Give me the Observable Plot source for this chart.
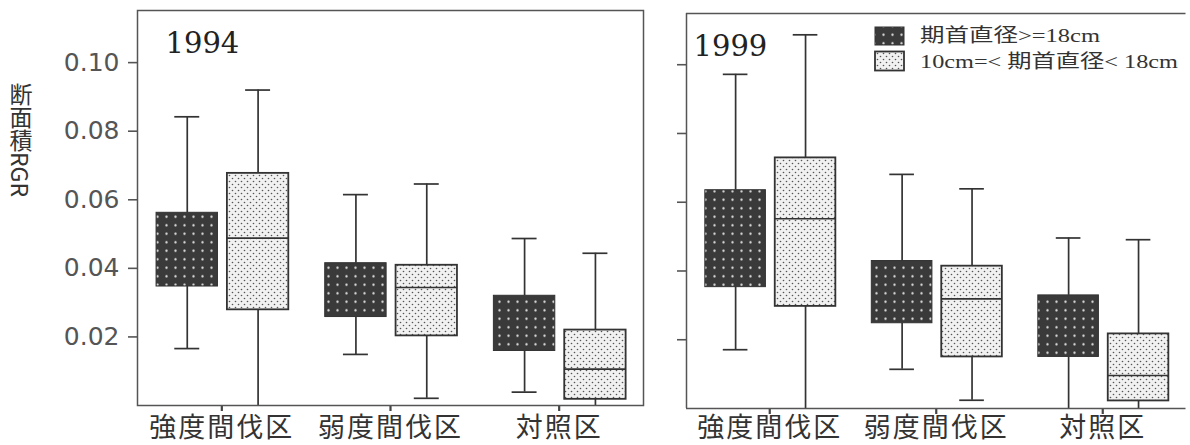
<!DOCTYPE html>
<html><head><meta charset="utf-8">
<script src="https://cdn.jsdelivr.net/npm/d3@7"></script>
<script src="https://cdn.jsdelivr.net/npm/@observablehq/plot@0.6"></script>
<style>
body{margin:0;background:#fff;}
#wrap{position:relative;width:1190px;height:445px;overflow:hidden;background:#fff;}
#ylab{position:absolute;left:9px;top:83px;writing-mode:vertical-rl;text-orientation:mixed;font-family:"Noto Sans CJK JP",sans-serif;font-size:23px;line-height:1;color:#333;}
</style></head><body><div id="wrap"><div id="ylab">断面積RGR</div></div>
<script>
// ---- data ----
const categories = ["強度間伐区", "弱度間伐区", "対照区"];
const groups = ["期首直径>=18cm", "10cm=< 期首直径< 18cm"];
const years = ["1994", "1999"];
const yTicks = [0.02, 0.04, 0.06, 0.08, 0.10];
// order: [強度 big, 強度 small, 弱度 big, 弱度 small, 対照 big, 対照 small]
const lo1994  = [0.0166, 0.0000, 0.0149, 0.0021, 0.0039, 0.0000];
const q1_1994 = [0.0347, 0.0279, 0.0258, 0.0203, 0.0159, 0.0018];
const med1994 = [null,   0.0488, null,   0.0344, null,   0.0106];
const q3_1994 = [0.0562, 0.0677, 0.0415, 0.0409, 0.0320, 0.0220];
const hi1994  = [0.0842, 0.0920, 0.0615, 0.0646, 0.0487, 0.0444];
const lo1999  = [0.0171, 0.0000, 0.0114, 0.0024, 0.0000, 0.0000];
const q1_1999 = [0.0353, 0.0297, 0.0248, 0.0150, 0.0150, 0.0022];
const med1999 = [null,   0.0552, null,   0.0319, null,   0.0096];
const q3_1999 = [0.0635, 0.0729, 0.0429, 0.0414, 0.0329, 0.0217];
const hi1999  = [0.0972, 0.1087, 0.0681, 0.0639, 0.0496, 0.0491];

const stats = {
  "1994": {lo: lo1994, q1: q1_1994, med: med1994, q3: q3_1994, hi: hi1994},
  "1999": {lo: lo1999, q1: q1_1999, med: med1999, q3: q3_1999, hi: hi1999}
};

const wrap = document.getElementById("wrap");

// patterns
const defsSvg = d3.select(wrap).append("svg").attr("width", 0).attr("height", 0).style("position", "absolute");
const defs = defsSvg.append("defs");
const pd = defs.append("pattern").attr("id", "pDark").attr("patternUnits", "userSpaceOnUse").attr("width", 9).attr("height", 8.5);
pd.append("rect").attr("width", 9).attr("height", 8.5).attr("fill", "#3a3a3a");
pd.append("circle").attr("cx", 4.5).attr("cy", 4.25).attr("r", 1.15).attr("fill", "#e0e0e0");
const pl = defs.append("pattern").attr("id", "pLight").attr("patternUnits", "userSpaceOnUse").attr("width", 6).attr("height", 6);
pl.append("rect").attr("width", 6).attr("height", 6).attr("fill", "#f1f1f1");
pl.append("circle").attr("cx", 1.5).attr("cy", 1.5).attr("r", 0.8).attr("fill", "#555");
pl.append("circle").attr("cx", 4.5).attr("cy", 4.5).attr("r", 0.8).attr("fill", "#555");

const OFF = [-0.205, 0.215], HALF = 0.182, CAP = 0.074;

function rowsFor(year) {
  const s = stats[year];
  const rows = [];
  categories.forEach((c, ci) => groups.forEach((g, gi) => {
    const k = ci * 2 + gi;
    const xc = ci + OFF[gi];
    rows.push({cat: c, grp: gi, xc, b1: xc - HALF, b2: xc + HALF, c1: xc - CAP, c2: xc + CAP,
      lo: s.lo[k], q1: s.q1[k], med: s.med[k], q3: s.q3[k], hi: s.hi[k]});
  }));
  return rows;
}

function panel(year, o) {
  const rows = rowsFor(year);
  const line = {stroke: "#333", strokeWidth: 1.7};
  const marks = [
    Plot.ruleX(rows, {x: "xc", y1: "lo", y2: "q1", ...line}),
    Plot.ruleX(rows, {x: "xc", y1: "q3", y2: "hi", ...line}),
    Plot.ruleY(rows, {y: "hi", x1: "c1", x2: "c2", ...line}),
    Plot.ruleY(rows.filter(d => d.lo > 0), {y: "lo", x1: "c1", x2: "c2", ...line}),
    Plot.rect(rows.filter(d => d.grp === 0), {x1: "b1", x2: "b2", y1: "q1", y2: "q3", fill: "url(#pDark)", stroke: "#333", strokeWidth: 1}),
    Plot.rect(rows.filter(d => d.grp === 1), {x1: "b1", x2: "b2", y1: "q1", y2: "q3", fill: "url(#pLight)", stroke: "#333", strokeWidth: 1.8}),
    Plot.ruleY(rows.filter(d => d.med != null), {y: "med", x1: "b1", x2: "b2", stroke: "#333", strokeWidth: 1.6}),
    Plot.text([year], {text: d => d, frameAnchor: "top-left", textAnchor: "start", lineAnchor: "bottom",
      dx: o.titleDx, dy: 42, fontSize: 29, fontFamily: "DejaVu Serif", fill: "#222"})
  ];
  if (o.fullFrame) {
    marks.push(Plot.frame({stroke: "#555", strokeWidth: 1.5}));
  } else {
    marks.push(Plot.ruleX([-0.5], {stroke: "#555", strokeWidth: 1.5}));
    marks.push(Plot.ruleY([0, o.yTop], {stroke: "#555", strokeWidth: 1.5}));
  }
  const svg = Plot.plot({
    width: o.width, height: 445,
    marginLeft: o.ml, marginRight: o.mr, marginTop: o.mt, marginBottom: o.mb,
    style: {background: "transparent", overflow: "visible", fontFamily: "DejaVu Sans"},
    x: {domain: [-0.5, 2.5], ticks: [0, 1, 2], tickFormat: i => categories[i], tickSize: 6, tickPadding: o.xPad, label: null},
    y: {domain: [0, o.yTop], ticks: yTicks, tickFormat: o.labels ? d3.format(".2f") : () => "", tickSize: 9, tickPadding: 9, label: null},
    marks
  });
  svg.style.position = "absolute";
  svg.style.left = o.left + "px";
  svg.style.top = "0px";
  svg.style.maxWidth = "none";
  const s = d3.select(svg);
  s.selectAll('[aria-label^="x-axis"] text')
    .attr("font-size", 27).attr("font-family", "'Noto Sans CJK JP'").attr("letter-spacing", 2).attr("fill", "#333");
  s.selectAll('[aria-label^="x-axis"] line, [aria-label^="x-axis"] path')
    .attr("stroke", "#444").attr("stroke-width", 2.2);
  s.selectAll('[aria-label^="y-axis"] text')
    .attr("font-size", 25).attr("font-family", "'DejaVu Sans'").attr("fill", "#555");
  s.selectAll('[aria-label^="y-axis"] line, [aria-label^="y-axis"] path')
    .attr("stroke", "#555").attr("stroke-width", 1.6);
  wrap.appendChild(svg);
}

panel(years[0], {left: 0, width: 665, ml: 137, mr: 22, mt: 10, mb: 40, yTop: 0.1152, labels: true, fullFrame: true, titleDx: 28, xPad: 6});
panel(years[1], {left: 665, width: 525, ml: 21, mr: 4.5, mt: 13, mb: 37, yTop: 0.1149, labels: false, fullFrame: false, titleDx: 7, xPad: 3});

// legend
const lg = d3.select(wrap).append("svg").attr("width", 320).attr("height", 60)
  .style("position", "absolute").style("left", "870px").style("top", "22px");
lg.append("rect").attr("x", 5).attr("y", 5).attr("width", 29).attr("height", 18).attr("fill", "url(#pDark)").attr("stroke", "#333").attr("stroke-width", 1);
lg.append("rect").attr("x", 5).attr("y", 29.5).attr("width", 29).attr("height", 19).attr("fill", "url(#pLight)").attr("stroke", "#333").attr("stroke-width", 1.8);
const legendWidths = [180, 258];
groups.forEach((g, i) => {
  lg.append("text").attr("x", 50).attr("y", 20 + i * 26).text(g)
    .attr("font-family", "'Liberation Serif','Noto Sans CJK JP',serif")
    .attr("font-size", 19).attr("fill", "#333")
    .attr("textLength", legendWidths[i]).attr("lengthAdjust", "spacingAndGlyphs");
});
</script></body></html>
